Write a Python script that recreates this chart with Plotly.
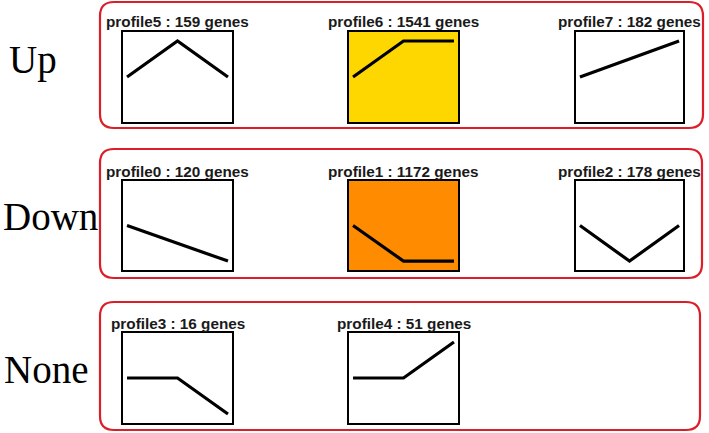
import plotly.graph_objects as go

W, H = 709, 433

# profile values at the three time points
timepoints = [0, 1, 2]
profile_names = ["profile5", "profile6", "profile7",
                 "profile0", "profile1", "profile2",
                 "profile3", "profile4"]
gene_counts = [159, 1541, 182, 120, 1172, 178, 16, 51]
profile_values = [[0, 1, 0], [0, 1, 1], [0, 1, 2],
                  [0, -1, -2], [0, -1, -1], [0, -1, 0],
                  [0, 0, -1], [0, 0, 1]]
fill_colors = ["white", "rgb(255,215,0)", "white",
               "white", "rgb(255,140,0)", "white",
               "white", "white"]
row_labels = ["Up", "Down", "None"]

# panel positions in pixels (left, right, top, bottom)
cols = [(123, 232), (349, 458), (576, 683)]
rows = [(32, 122), (181, 270), (333, 423)]
groups = [(100, 703, 2, 128), (100, 702, 149, 278), (100, 700, 302, 430)]
label_pos = [(7, 60), (1, 216), (2, 369)]


def px(x):
    return x / W


def py(y):
    return 1 - y / H


fig = go.Figure()
layout = dict(width=W, height=H, margin=dict(l=0, r=0, t=0, b=0),
              paper_bgcolor="white", plot_bgcolor="rgba(0,0,0,0)",
              showlegend=False)
annotations = []
shapes = []

for i, name in enumerate(profile_names):
    r, c = divmod(i, 3)
    x0, x1 = cols[c]
    y0, y1 = rows[r]
    n = "" if i == 0 else str(i + 1)
    vals = profile_values[i]
    lim = 1.25 * max(abs(v) for v in vals)
    fig.add_trace(go.Scatter(x=timepoints, y=vals, mode="lines",
                             line=dict(color="black", width=3.2),
                             xaxis="x" + n, yaxis="y" + n, hoverinfo="skip"))
    layout["xaxis" + n] = dict(domain=[px(x0), px(x1)], range=[-0.08, 2.08],
                               showgrid=False, zeroline=False, showticklabels=False,
                               ticks="", showline=True, mirror=True,
                               linecolor="black", linewidth=1.5,
                               anchor="y" + n, fixedrange=True)
    layout["yaxis" + n] = dict(domain=[py(y1), py(y0)], range=[-lim, lim],
                               showgrid=False, zeroline=False, showticklabels=False,
                               ticks="", showline=True, mirror=True,
                               linecolor="black", linewidth=1.5,
                               anchor="x" + n, fixedrange=True)
    if fill_colors[i] != "white":
        shapes.append(dict(type="rect", xref="x" + n + " domain", yref="y" + n + " domain",
                           x0=0, x1=1, y0=0, y1=1, fillcolor=fill_colors[i],
                           line=dict(width=0), layer="below"))
    annotations.append(dict(text="<b>%s : %d genes</b>" % (name, gene_counts[i]),
                            x=px((x0 + x1) / 2), y=py(y0 - 10), xref="paper", yref="paper",
                            xanchor="center", yanchor="middle", showarrow=False,
                            font=dict(family="Liberation Sans, Arial", size=15.3, color="#1a1a1a")))

# rounded red group frames
for (gx0, gx1, gy0, gy1) in groups:
    rad = 14
    path = ("M {a},{t} L {b},{t} Q {r},{t} {r},{t2} L {r},{b2} Q {r},{bt} {b},{bt} "
            "L {a},{bt} Q {l},{bt} {l},{b2} L {l},{t2} Q {l},{t} {a},{t} Z").format(
        a=px(gx0 + rad), b=px(gx1 - rad), l=px(gx0), r=px(gx1),
        t=py(gy0), t2=py(gy0 + rad), b2=py(gy1 - rad), bt=py(gy1))
    shapes.append(dict(type="path", xref="paper", yref="paper", path=path,
                       line=dict(color="rgb(220,30,40)", width=2.2)))

for lab, (lx, ly) in zip(row_labels, label_pos):
    annotations.append(dict(text=lab, x=px(lx), y=py(ly), xref="paper", yref="paper",
                            xanchor="left", yanchor="middle", showarrow=False,
                            font=dict(family="Liberation Serif, Times New Roman", size=39,
                                      color="black")))

layout["annotations"] = annotations
layout["shapes"] = shapes
fig.update_layout(**layout)

# page has a default body margin, drop it so the figure sits at 0,0
fig.write_html("out.html", config={"displayModeBar": False},
               post_script="document.body.style.margin='0';")
